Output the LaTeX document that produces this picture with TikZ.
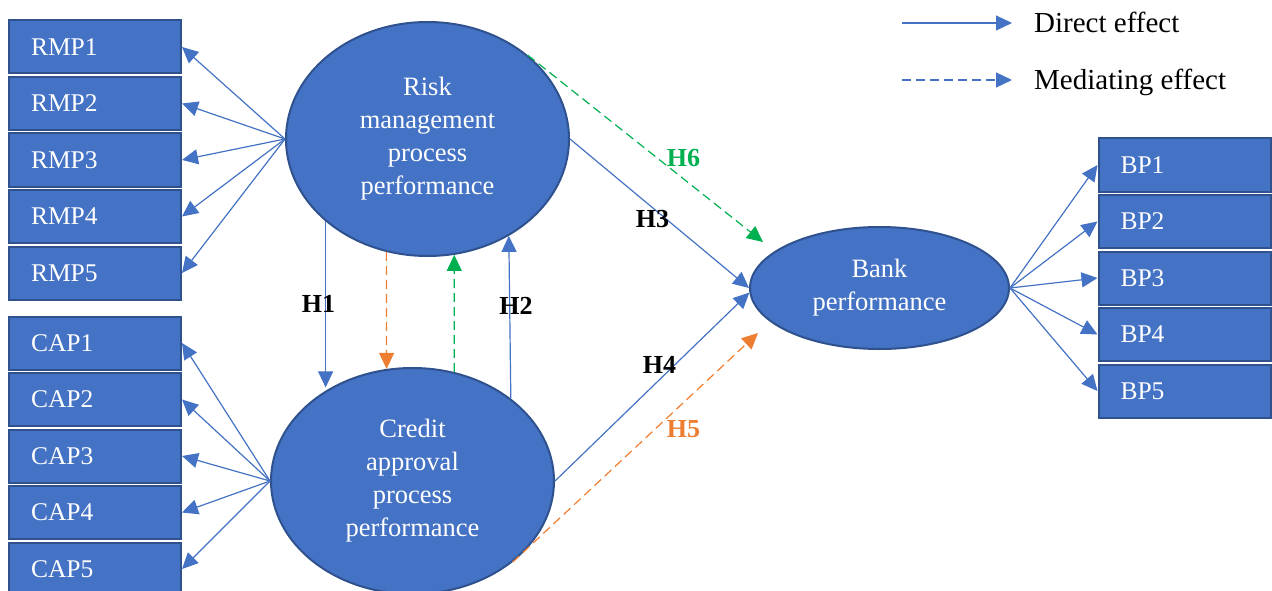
\documentclass[tikz,border=0pt]{standalone}
\usepackage{fontspec}
\setmainfont{Liberation Serif}
\usetikzlibrary{positioning,shapes.geometric,arrows.meta}
\definecolor{boxblue}{HTML}{4472C4}
\definecolor{edgeblue}{HTML}{2F528F}
\definecolor{medgreen}{HTML}{00B050}
\definecolor{medorange}{HTML}{ED7D31}

\begin{document}
\begin{tikzpicture}[
        x=1pt, y=-1pt,
        node distance=1.5pt,
        item/.style={
            draw=edgeblue,
            line width=2pt,
            fill=boxblue,
            text=white,
            rectangle,
            align=left,
            text width=128pt,
            inner xsep=22pt,
            minimum height=53pt,
            font=\fontsize{25.5}{30}\selectfont
        },
        latent/.style={
            draw=edgeblue,
            line width=2pt,
            fill=boxblue,
            text=white,
            ellipse,
            align=center,
            inner sep=0pt,
            font=\fontsize{26.5}{33}\selectfont
        },
        direct/.style={-{Triangle[length=16pt,width=15pt]}, color=boxblue, line width=1.2pt},
        mediate/.style={direct, dash pattern=on 9pt off 5pt},
        hyp/.style={inner sep=0pt, font=\fontsize{26}{30}\selectfont\bfseries},
        legend/.style={inner sep=0pt, anchor=base west, font=\fontsize{29}{34}\selectfont}
    ]
        \useasboundingbox (0,0) rectangle (1272,591);
        \clip (0,0) rectangle (1272,591);

        \node[latent, minimum width=283pt, minimum height=234pt] (risk) at (427.5,139) {Risk\\management\\process\\performance};
        \node[latent, minimum width=283pt, minimum height=226pt] (credit) at (412.5,481) {Credit\\approval\\process\\performance};
        \node[latent, minimum width=259pt, minimum height=122pt] (bank) at (879.5,288) {Bank\\performance};

        \node[item] (rmp1) at (95,47) {RMP1};
        \node[item, below=of rmp1] (rmp2) {RMP2};
        \node[item, below=of rmp2] (rmp3) {RMP3};
        \node[item, below=of rmp3] (rmp4) {RMP4};
        \node[item, below=of rmp4] (rmp5) {RMP5};

        \node[item] (cap1) at (95,343) {CAP1};
        \node[item, below=of cap1] (cap2) {CAP2};
        \node[item, below=of cap2] (cap3) {CAP3};
        \node[item, below=of cap3] (cap4) {CAP4};
        \node[item, below=of cap4] (cap5) {CAP5};

        \node[item] (bp1) at (1184.5,165) {BP1};
        \node[item, below=of bp1] (bp2) {BP2};
        \node[item, below=of bp2] (bp3) {BP3};
        \node[item, below=of bp3] (bp4) {BP4};
        \node[item, below=of bp4] (bp5) {BP5};

        \draw[direct] (risk.west) -- (rmp1.east);
        \draw[direct] (risk.west) -- (rmp2.east);
        \draw[direct] (risk.west) -- (rmp3.east);
        \draw[direct] (risk.west) -- (rmp4.east);
        \draw[direct] (risk.west) -- (rmp5.east);

        \draw[direct] (credit.west) -- (cap1.east);
        \draw[direct] (credit.west) -- (cap2.east);
        \draw[direct] (credit.west) -- (cap3.east);
        \draw[direct] (credit.west) -- (cap4.east);
        \draw[direct] (credit.west) -- (cap5.east);

        \draw[direct] (bank.east) -- (bp1.west);
        \draw[direct] (bank.east) -- (bp2.west);
        \draw[direct] (bank.east) -- (bp3.west);
        \draw[direct] (bank.east) -- (bp4.west);
        \draw[direct] (bank.east) -- (bp5.west);

        \coordinate (h5tip) at (758,333);
        \coordinate (h6tip) at (763,242);

        \draw[direct] (risk.219) -- (risk.219 |- credit.131);
        \draw[mediate, color=medorange] (risk.250) -- (credit.103);
        \draw[mediate, color=medgreen] (credit.69) -- (risk.283);
        \draw[direct] (credit.40) -- (risk.310);
        \draw[direct] (risk.east) -- (bank.west);
        \draw[direct] (credit.east) -- (bank.182);
        \draw[mediate, color=medorange] (credit.321) -- (h5tip);
        \draw[mediate, color=medgreen] (risk.40) -- (h6tip);

        \node[hyp] (h1) at (318.5,304) {H1};
        \node[hyp] (h2) at (516,306) {H2};
        \node[hyp] (h3) at (652.5,219) {H3};
        \node[hyp] (h4) at (659.5,365) {H4};
        \node[hyp, text=medorange] (h5) at (683.5,429) {H5};
        \node[hyp, text=medgreen] (h6) at (683.5,158.5) {H6};

        \coordinate (d1) at (902,23);
        \coordinate (d2) at (1012,23);
        \coordinate (m1) at (902,80);
        \coordinate (m2) at (1012,80);
        \draw[direct] (d1) -- (d2);
        \draw[mediate] (m1) -- (m2);
        \node[legend] (directlbl) at (1034,33) {Direct effect};
        \node[legend] (medlbl) at (1034,90) {Mediating effect};
    \end{tikzpicture}
\end{document}
